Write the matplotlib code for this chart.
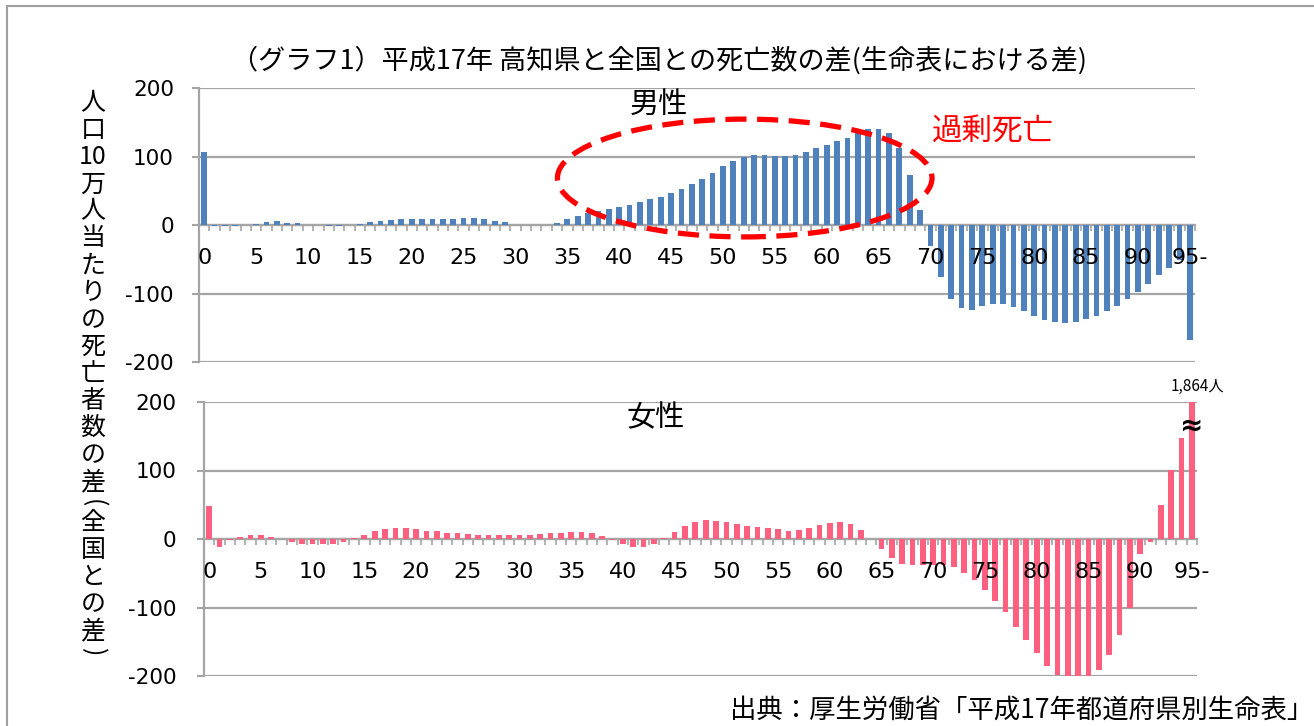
import numpy as np
import matplotlib
matplotlib.use('Agg')
import matplotlib.pyplot as plt
from matplotlib.patches import Ellipse, Rectangle

plt.rcParams['font.family'] = ['Noto Sans CJK JP', 'DejaVu Sans']

# ages 0..94 and "95-"
ages = list(range(96))
age_labels = [str(a) if a < 95 else '95-' for a in range(0, 96, 5)]

# difference in deaths per 100k (Kochi - national)
male = [106, -2, -2, -2, 0, 1.5, 4, 6, 3, 3,
        0, 0, -2, -2, 0, 1.5, 4, 6, 7, 9,
        9, 9, 9, 9, 9, 10, 10, 9, 6, 4,
        0, 0, 0, 0, 2.5, 9, 13, 17, 20, 23,
        26, 29, 34, 38, 41, 47, 53, 60, 67, 76,
        86, 94, 100, 102, 102, 101, 101, 102, 107, 113,
        117, 123, 127, 135, 140, 140, 135, 113, 73, 22,
        -30, -76, -108, -121, -124, -118, -115, -115, -119, -126,
        -133, -139, -142, -143, -142, -137, -133, -125, -118, -108,
        -98, -86, -73, -63, -51, -168]

female = [48, -11, -2, 3, 6, 6, 3, 0, -4, -7,
          -7, -7, -7, -4, 1, 6, 12, 14, 16, 16,
          14, 12, 12, 9, 9, 7, 6, 6, 6, 6,
          6, 6, 7, 9, 9, 10, 10, 9, 4, -2,
          -8, -11, -11, -7, 1, 10, 19, 25, 28, 26,
          25, 22, 19, 17, 16, 14, 12, 13, 16, 20,
          23, 25, 22, 13, 0, -15, -28, -37, -38, -38,
          -38, -38, -41, -49, -60, -74, -90, -107, -128, -148,
          -167, -185, -199, -205, -205, -205, -191, -169, -140, -100,
          -22, -5, 50, 101, 147, 1864]

yticks = [-200, -100, 0, 100, 200]

W, H = 1314, 726
def fx(x): return x / W
def fy(y): return 1 - y / H

grid_c = '#A5A5A5'
blue = '#4F81BD'
pink = '#FF6080'
numfont = ['DejaVu Sans']

fig = plt.figure(figsize=(W / 100, H / 100), dpi=100)

def setup(ax, data, color, ypad):
    ax.bar(ages, data, width=0.55, color=color, zorder=3)
    ax.set_xlim(-0.5, 95.5)
    ax.set_ylim(-200, 200)
    ax.set_yticks(yticks)
    ax.set_yticklabels([str(v) for v in yticks], fontsize=15.5, family=numfont)
    ax.tick_params(axis='y', length=5, width=1.5, color=grid_c, pad=ypad)
    ax.yaxis.grid(True, color=grid_c, lw=1.6, zorder=1)
    for s in ['top', 'right']:
        ax.spines[s].set_visible(False)
    ax.spines['left'].set_color(grid_c)
    ax.spines['left'].set_linewidth(1.6)
    ax.spines['bottom'].set_position(('data', 0))
    ax.spines['bottom'].set_color(grid_c)
    ax.spines['bottom'].set_linewidth(1.6)
    ax.set_xticks(np.arange(-0.5, 96, 1))
    ax.set_xticklabels([])
    ax.tick_params(axis='x', length=4.5, width=1.2, color=grid_c)
    for a, lab in zip(range(0, 96, 5), age_labels):
        ax.annotate(lab, xy=(a, 0), xytext=(0, -24), textcoords='offset points',
                    ha='center', va='center', fontsize=16, family=numfont,
                    annotation_clip=False)
    ax.set_facecolor('none')

ax1 = fig.add_axes([fx(199), fy(362), 996 / W, 274 / H])
ax2 = fig.add_axes([fx(204), fy(676), 993 / W, 274 / H])
setup(ax1, male, blue, 13)
setup(ax2, female, pink, 15)

ax1.text(43.8, 175, '男性', ha='center', va='center', fontsize=21)
ax2.text(43.2, 177, '女性', ha='center', va='center', fontsize=21)
ax1.text(76, 136, '過剰死亡', ha='center', va='center', fontsize=22, color='#FF0000')
ax1.add_patch(Ellipse((52.1, 68.6), 36.1, 172, fill=False, edgecolor='#FF0000',
                      lw=3.8, linestyle=(0, (4, 2)), clip_on=False, zorder=5))

ax2.annotate('1,864人', xy=(95, 200), xytext=(4, 11), textcoords='offset points',
             ha='center', va='center', fontsize=11, annotation_clip=False)
ax2.text(95, 166, '≈', ha='center', va='center', fontsize=20, fontweight='bold',
         family=['DejaVu Sans'], zorder=6)

fig.text(fx(659), fy(60), '（グラフ1）平成17年 高知県と全国との死亡数の差(生命表における差)',
         ha='center', va='center', fontsize=19.5)
fig.text(fx(1313), fy(710), '出典：厚生労働省「平成17年都道府県別生命表」',
         ha='right', va='center', fontsize=19)

# vertical y label
ylab = ['人', '口', '10', '万', '人', '当', 'た', 'り', 'の', '死', '亡', '者', '数',
        'の', '差', '(', '全', '国', 'と', 'の', '差', ')']
widths = [0.5 if c in '()' else 1.0 for c in ylab]
unit = 27.1
y = 103
for i, c in enumerate(ylab):
    if i > 0:
        y += (widths[i - 1] + widths[i]) / 2 * unit
    rot = -90 if c in '()' else 0
    fig.text(fx(93), fy(y), c, ha='center', va='center', fontsize=18, rotation=rot)

fig.add_artist(Rectangle((fx(7), -0.1), 1.2, fy(6) + 0.1, transform=fig.transFigure,
                         fill=False, edgecolor='#A0A0A0', lw=1.5))

fig.savefig('out.png', dpi=100)
